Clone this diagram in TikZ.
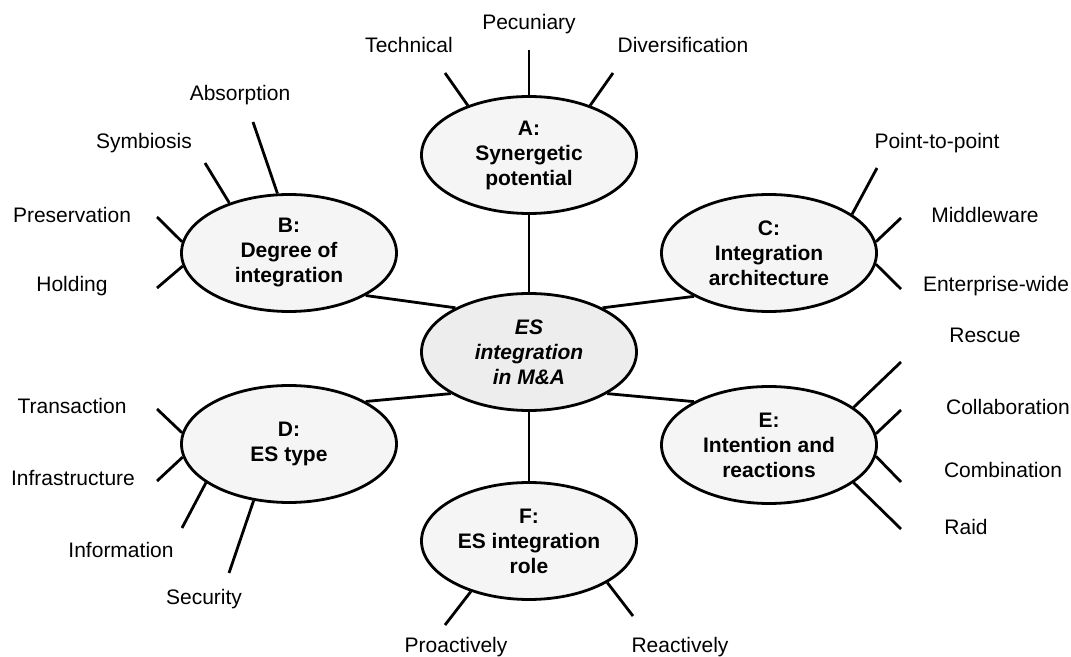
\documentclass[tikz,border=0pt]{standalone}
\usepackage{fontspec}
\setmainfont{Liberation Sans}
\usetikzlibrary{shapes.geometric}

\begin{document}
\begin{tikzpicture}[x=0.5pt,y=-0.5pt,
  every node/.style={font=\fontsize{10.5}{12.5}\selectfont},
  topic/.style={ellipse,draw,line width=1.4pt,fill=gray!8,minimum width=107.5pt,minimum height=58.5pt,inner sep=0pt,align=center,font=\fontsize{10.5}{12.5}\selectfont\bfseries},
  core/.style={topic,fill=gray!14,font=\fontsize{10.5}{12.5}\selectfont\bfseries\itshape},
  leaf/.style={inner sep=1pt},
  spoke/.style={line width=1.4pt}]
\useasboundingbox (0,0) rectangle (1071,657);

% the six ellipses round the core
\node [core] (M) at (529,352) {ES\\integration\\in M\&A};
\node [topic] (A) at (529,155) {A:\\Synergetic\\potential};
\node [topic] (B) at (289,253) {B:\\Degree of\\integration};
\node [topic] (C) at (769,253) {C:\\Integration\\architecture};
\node [topic] (D) at (289,444) {D:\\ES type};
\node [topic] (E) at (769,445) {E:\\Intention and\\reactions};
\node [topic] (F) at (529,541) {F:\\ES integration\\role};

\draw [spoke] (A.south) -- (M.north);
\draw [spoke] (M.south) -- (F.north);
\draw [spoke] (M.149) -- (B.-29);
\draw [spoke] (M.31) -- (C.210);
\draw [spoke] (M.208) -- (D.29);
\draw [spoke] (M.-28) -- (E.150);

% labels
\foreach \n/\x/\y/\t in {tec/409/45/Technical, pec/529/24/Pecuniary, div/683/45/Diversification,
  abs/240/95/Absorption, sym/144/143/Symbiosis, pre/72/215/Preservation, hol/72/286/Holding,
  ptp/937/143/Point-to-point, mid/985/215/Middleware, ent/996/286/Enterprise-wide,
  tra/72/406/Transaction, inf/73/478/Infrastructure, ifo/121/550/Information, sec/204/599/Security,
  res/985/335/Rescue, col/1008/407/Collaboration, com/1003/470/Combination, rai/966/527/Raid,
  pro/456/647/Proactively, rea/680/647/Reactively}
  \node [leaf] (\n) at (\x,\y) {\t};

% spokes to the labels
\foreach \p/\a/\e/\x/\y in {A/141/tec-e/445/73, A/90/pec-e/529/50, A/39/div-e/613/73,
  B/101/abs-e/253/122, B/140/sym-e/205/163, B/174/pre-e/157/217, B/187/hol-e/157/288,
  C/25/ptp-e/877/168, C/6/mid-e/901/218, C/-6/ent-e/901/289,
  D/174/tra-e/157/409, D/187/inf-e/157/481, D/205/ifo-e/182/528, D/238/sec-e/229/573,
  E/24/res-e/901/362, E/6/col-e/901/410, E/-6/com-e/901/482, E/-24/rai-e/901/529,
  F/221/pro-e/445/625, F/-28/rea-e/633/616}
  {\coordinate (\e) at (\x,\y);
   \draw [spoke] (\p.\a) -- (\e);}
\end{tikzpicture}
\end{document}
